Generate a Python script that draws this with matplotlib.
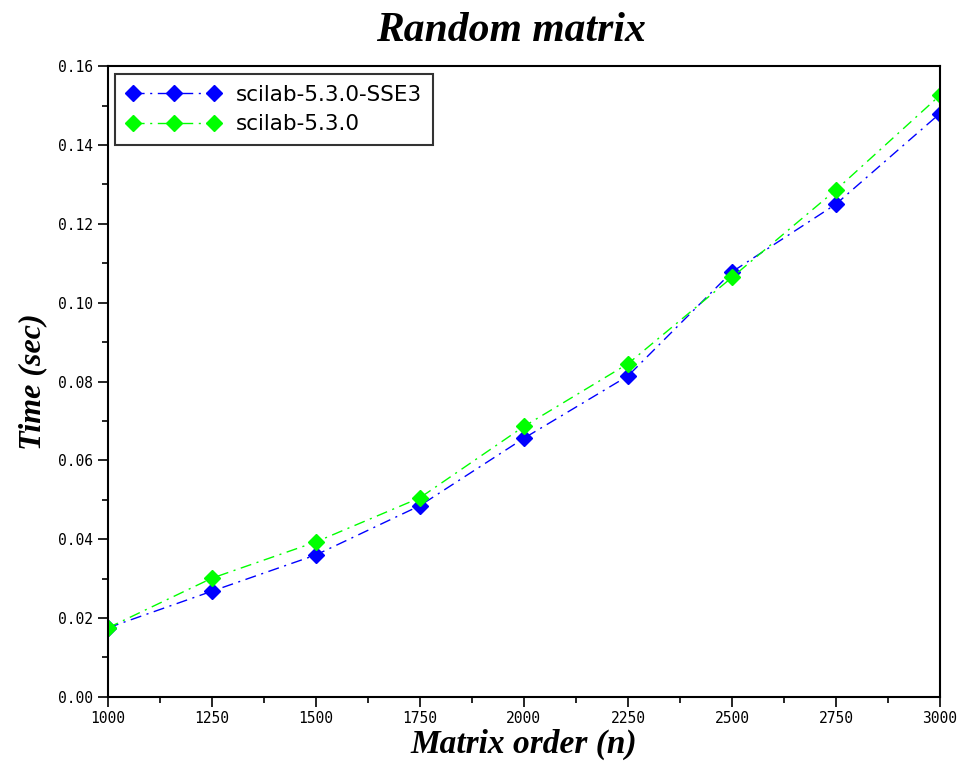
import numpy as np
import matplotlib.pyplot as plt
from matplotlib.ticker import MultipleLocator

# Datos
n = [1000, 1250, 1500, 1750, 2000, 2250, 2500, 2750, 3000]
t_sse3 = [0.0175, 0.0268, 0.0360, 0.0485, 0.0656, 0.0814, 0.1078, 0.1250, 0.1480]
t_base = [0.0175, 0.0301, 0.0393, 0.0505, 0.0686, 0.0845, 0.1064, 0.1286, 0.1526]
labels = ['scilab-5.3.0-SSE3', 'scilab-5.3.0']

fig = plt.figure(figsize=(9.63, 7.7), dpi=100)
ax = fig.add_axes([0.112, 0.095, 0.864, 0.819])

ax.plot(n, t_sse3, color='#0000ff', linestyle=(0, (8, 4, 1.5, 4)), linewidth=1,
        marker='D', markersize=8, label=labels[0])
ax.plot(n, t_base, color='#00ff00', linestyle=(0, (8, 4, 1.5, 4)), linewidth=1,
        marker='D', markersize=8, label=labels[1])

ax.set_xlim(1000, 3000)
ax.set_ylim(0, 0.16)
ax.set_xticks(n)
ax.xaxis.set_minor_locator(MultipleLocator(125))
ax.yaxis.set_major_locator(MultipleLocator(0.02))
ax.yaxis.set_minor_locator(MultipleLocator(0.01))
ax.yaxis.set_major_formatter(plt.FormatStrFormatter('%.2f'))

ax.tick_params(which='major', direction='out', length=7, width=1.2, labelsize=10.5)
ax.tick_params(which='minor', direction='out', length=4, width=1.2)
for lab in ax.get_xticklabels() + ax.get_yticklabels():
    lab.set_family('DejaVu Sans Mono')
for s in ax.spines.values():
    s.set_linewidth(1.5)

ax.set_title('Random matrix', fontsize=30, fontweight='bold', fontstyle='italic',
             family='Liberation Serif', pad=18, x=0.485)
ax.set_xlabel('Matrix order (n)', fontsize=24, fontweight='bold', fontstyle='italic',
              family='Liberation Serif', labelpad=2)
ax.set_ylabel('Time (sec)', fontsize=23, fontweight='bold', fontstyle='italic',
              family='Liberation Serif', labelpad=8)

leg = ax.legend(loc='upper left', fontsize=15.5, frameon=True, fancybox=False,
                edgecolor='black', borderaxespad=0.35, handlelength=4.4,
                labelspacing=0.45, numpoints=3, borderpad=0.5, handletextpad=0.7)
leg.get_frame().set_linewidth(1.5)

plt.savefig('out.png', dpi=100)
